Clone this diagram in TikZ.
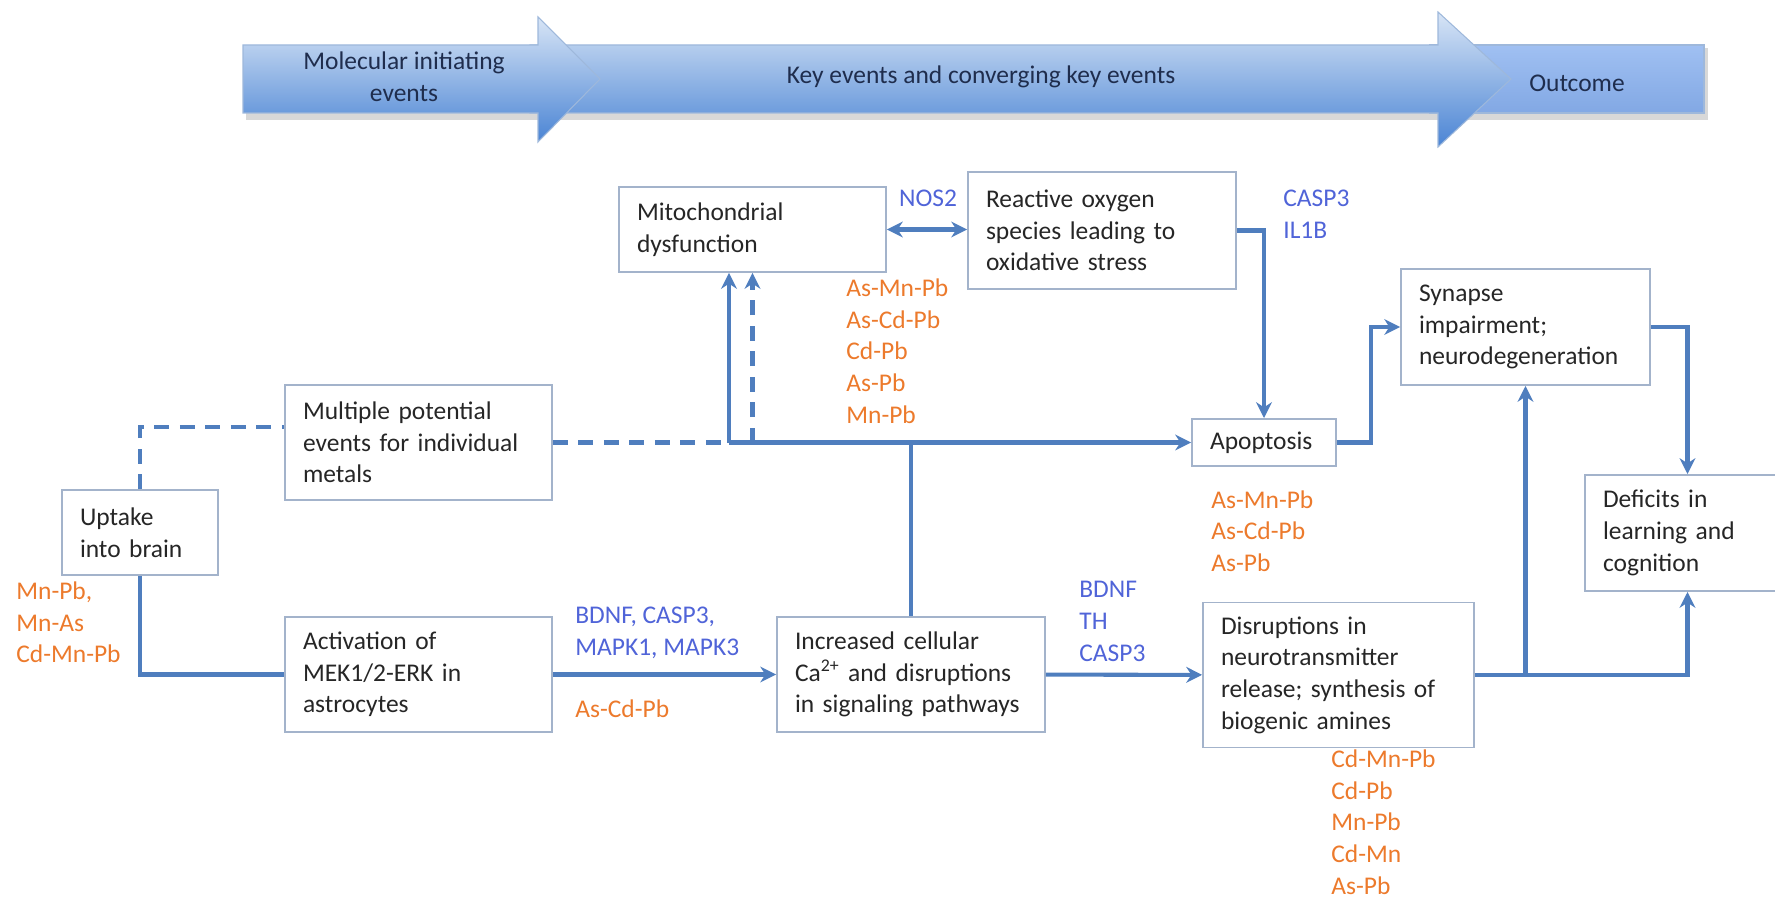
\documentclass[tikz,border=0pt]{standalone}
\usepackage{fontspec}
\setmainfont{Carlito}
\usetikzlibrary{arrows.meta}
\definecolor{boxline}{HTML}{A3B3CB}
\definecolor{connblue}{HTML}{4F7EBE}
\definecolor{genblue}{HTML}{5064D8}
\definecolor{metalorange}{HTML}{EC7A2C}
\definecolor{bannertext}{HTML}{1F2D4D}
\definecolor{bannerlight}{HTML}{D8E5F6}
\definecolor{bannerdark}{HTML}{4A84D4}
\definecolor{outcometop}{HTML}{A0C0F2}
\definecolor{outcomebot}{HTML}{82A8E4}
\tikzset{
  box/.style={draw=boxline,line width=1.1pt,fill=white,inner xsep=.36cm,align=left,text=black!85},
  conn/.style={draw=connblue,line width=2.3pt},
  dashconn/.style={conn,dash pattern=on 8.5pt off 6pt},
  genes/.style={text=genblue,align=left,inner sep=0pt},
  metals/.style={text=metalorange,align=left,inner sep=0pt},
  bannerpart/.style={draw=connblue!55,line width=.6pt},
  bannerlabel/.style={text=bannertext,align=center}
}
\begin{document}
\begin{tikzpicture}[x=0.02cm,y=-0.02cm,>={Stealth[length=9pt,width=9pt]},font=\fontsize{14.5}{18}\selectfont]
\useasboundingbox (0,0) rectangle (1775,902);

\fill[black!30,opacity=.5] (246,113) rectangle (1708,120);
\fill[black!30,opacity=.5] (1704,48) rectangle (1708,113);
\shade[bannerpart,top color=outcometop,bottom color=outcomebot] (1430,45) rectangle (1704,113);
\shade[bannerpart,top color=bannerlight,bottom color=bannerdark] (530,45) -- (1438,45) -- (1438,12) -- (1511,79) -- (1438,147) -- (1438,113) -- (530,113) -- cycle;
\shade[bannerpart,top color=bannerlight,bottom color=bannerdark] (243,45) -- (538,45) -- (538,17) -- (600,79) -- (538,142) -- (538,113) -- (243,113) -- cycle;
\node[bannerlabel] (molinit) at (404,77) {Molecular initiating\\events};
\node[bannerlabel] (keyevents) at (981,77) {Key events and converging key events};
\node[bannerlabel] (outcome) at (1577,83) {Outcome};

\node[box,text width=4.62cm,minimum height=1.7cm] (mito) at (752.5,229.5) {Mitochondrial\\dysfunction};
\node[box,text width=4.64cm,minimum height=2.34cm] (ros) at (1102,230.5) {Reactive oxygen\\species leading to\\oxidative stress};
\node[box,text width=4.62cm,minimum height=2.3cm] (multi) at (418.5,442.5) {Multiple potential\\events for individual\\metals};
\node[box,text width=2.4cm,minimum height=1.7cm] (uptake) at (140,532.5) {Uptake\\into brain};
\node[box,text width=4.62cm,minimum height=2.3cm] (activ) at (418.5,674.5) {Activation of\\MEK1/2-ERK in\\astrocytes};
\node[box,text width=4.64cm,minimum height=2.3cm] (calc) at (911,674.5) {Increased cellular\\Ca\textsuperscript{2+} and disruptions\\in signaling pathways};
\node[box,text width=2.16cm,minimum height=.94cm] (apop) at (1264,442.5) {Apoptosis};
\node[box,text width=4.26cm,minimum height=2.32cm] (syn) at (1525.5,327) {Synapse\\impairment;\\neurodegeneration};
\node[box,text width=3.38cm,minimum height=2.32cm] (defic) at (1687.5,533) {Deficits in\\learning and\\cognition};
\node[box,text width=4.7cm,minimum height=2.9cm] (disr) at (1338.5,675) {Disruptions in\\neurotransmitter\\release; synthesis of\\biogenic amines};

\node[genes] (nos) at (928,198) {NOS2};
\node[genes,anchor=west] (casp) at (1283,214.5) {CASP3\\IL1B};
\node[genes,anchor=west] (bdnfa) at (575,633) {BDNF, CASP3,\\MAPK1, MAPK3};
\node[genes,anchor=west] (bdnfb) at (1079,621.5) {BDNF\\TH\\CASP3};
\node[metals,anchor=west] (metmito) at (846,351) {As-Mn-Pb\\As-Cd-Pb\\Cd-Pb\\As-Pb\\Mn-Pb};
\node[metals,anchor=west] (metactiv) at (575,709) {As-Cd-Pb};
\node[metals,anchor=west] (metapop) at (1211,531) {As-Mn-Pb\\As-Cd-Pb\\As-Pb};
\node[metals,anchor=west] (metdisr) at (1331,822) {Cd-Mn-Pb\\Cd-Pb\\Mn-Pb\\Cd-Mn\\As-Pb};
\node[metals,anchor=west] (metuptake) at (16,622.5) {Mn-Pb,\\Mn-As\\Cd-Mn-Pb};

\coordinate (updash) at (140,427);
\coordinate (split) at (729,442.5);
\draw[conn] (uptake.south) |- (activ.west);
\draw[dashconn] (uptake.north) -- (updash) -- (multi.west |- updash);
\draw[dashconn] (multi.east) -- (split);
\draw[conn,->] (split) -- (apop.west);
\draw[conn,->] (split) -- (split |- mito.south);
\draw[dashconn,->] (mito.south |- split) -- (mito.south);
\draw[conn] (calc.north) -- (calc.north |- split);
\draw[conn,<->] (mito.east) -- (mito.east -| ros.west);
\draw[conn,->] (ros.east) -| (apop.north);
\draw[conn,->] (apop.east) -- ++(34,0) |- (syn.west);
\draw[conn,->] (syn.east) -| (defic.north);
\draw[conn,->] (activ) -- (calc);
\draw[conn,->] (calc) -- (disr);
\draw[conn,->] (disr.east) -| (defic.south);
\draw[conn,->] (disr.east -| syn.south) -- (syn.south);
\end{tikzpicture}
\end{document}
